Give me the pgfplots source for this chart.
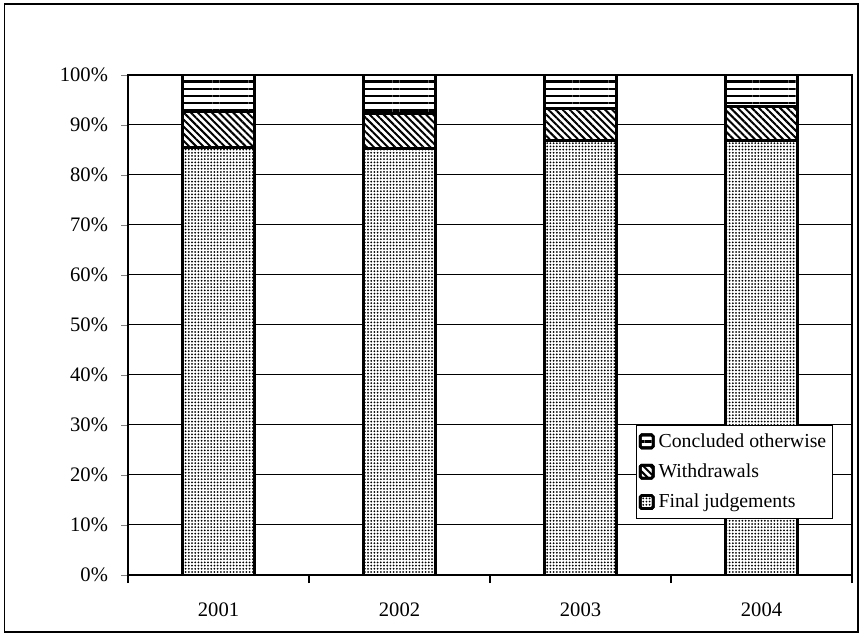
\documentclass[border=0pt]{standalone}
\usepackage{pgfplots}
\pgfplotsset{compat=1.18}
\usepackage{fontspec}
\setmainfont{Liberation Serif}
\usetikzlibrary{patterns.meta}

% shares of cases, percent
\pgfplotstableread{
x fj wd co
0 85.5 7.2 7.3
1 85.3 7.0 7.7
2 86.9 6.4 6.7
3 86.8 6.9 6.3
}\cases

\begin{document}
\begin{tikzpicture}
\path[use as bounding box] (0,0) rectangle (430pt,318pt);
\draw[line width=0.9pt] (2.2pt,2pt) rectangle (429pt,316pt);
\begin{axis}[
    at={(64pt,30.5pt)}, anchor=south west,
    scale only axis, width=362pt, height=250pt,
    ybar stacked, bar width=36pt,
    xmin=-0.5, xmax=3.5, ymin=0, ymax=100,
    xtick={0,1,2,3}, xticklabels={2001,2002,2003,2004},
    major x tick style={draw=none},
    minor xtick={-0.5,0.5,1.5,2.5,3.5},
    minor x tick style={black, line width=0.6pt},
    minor tick length=4pt,
    ytick={0,10,...,100},
    yticklabels={0\%,10\%,20\%,30\%,40\%,50\%,60\%,70\%,80\%,90\%,100\%},
    major tick length=3.5pt,
    tick align=outside, tick pos=left,
    ymajorgrids, grid style={black, line width=0.5pt},
    axis line style={black, line width=0.6pt},
    tick label style={font=\fontsize{10.3}{12}\selectfont},
    xticklabel style={yshift=-7pt},
    yticklabel style={xshift=-3pt},
    every axis plot/.append style={draw=black, line width=1.5pt},
    legend image code/.code={\draw[#1,line width=1.4pt,rounded corners=0.8pt] (0pt,-3pt) rectangle (6.5pt,3.5pt);},
    reverse legend,
    legend style={at={(0.702,0.30)}, anchor=north west, draw=black, line width=0.5pt,
        font=\fontsize{9.9}{12}\selectfont, row sep=2.8pt, inner xsep=1pt, inner ysep=2pt},
    legend cell align=left,
]
\addplot[fill=white, postaction={pattern={Dots[distance=1.6pt, radius=0.5pt]}}] table[x=x, y=fj] {\cases};
\addplot[fill=white, postaction={pattern={Lines[angle=-45, distance=2.5pt, line width=1pt]}}] table[x=x, y=wd] {\cases};
\addplot[fill=white, postaction={pattern={Lines[angle=0, distance=3.6pt, line width=1.2pt]}}] table[x=x, y=co] {\cases};
\legend{Final judgements, Withdrawals, Concluded otherwise}
\end{axis}
\end{tikzpicture}
\end{document}
